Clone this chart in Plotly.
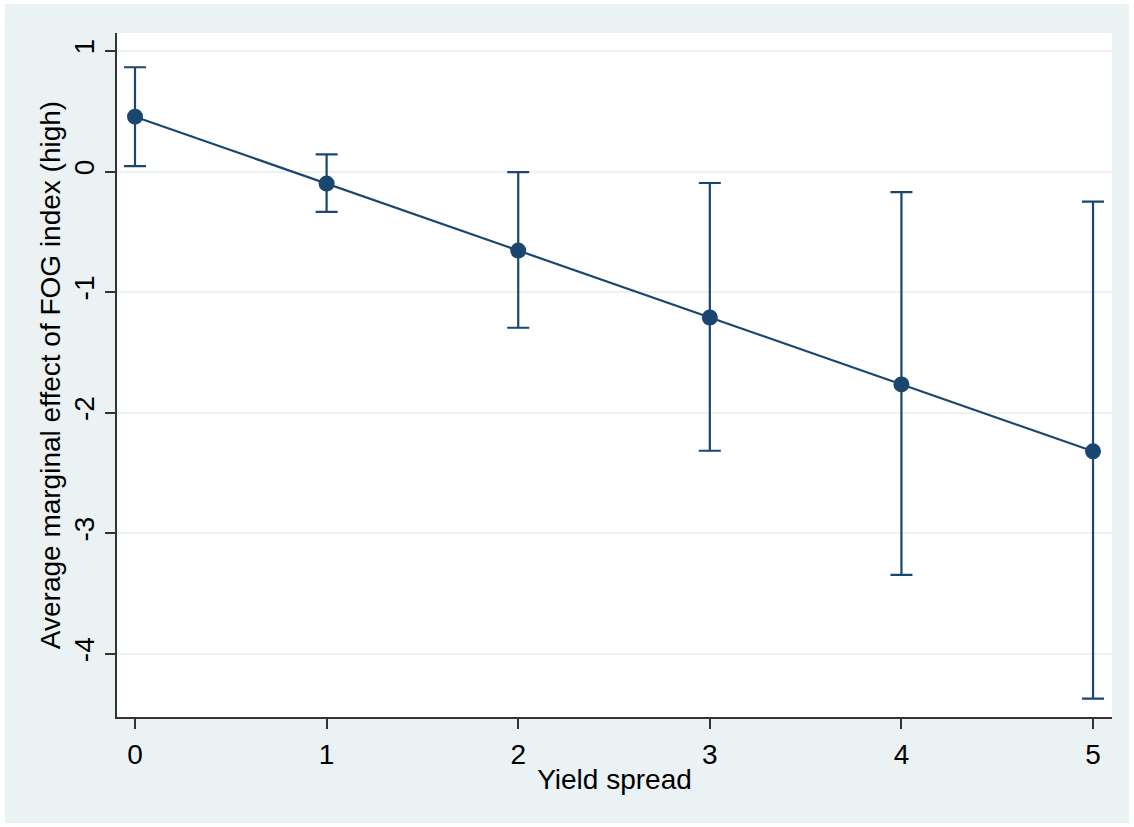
import plotly.graph_objects as go

x_vals = [0, 1, 2, 3, 4, 5]
effect = [0.455, -0.10, -0.655, -1.21, -1.765, -2.32]
ci_upper = [0.865, 0.142, -0.005, -0.095, -0.17, -0.25]
ci_lower = [0.045, -0.335, -1.295, -2.315, -3.345, -4.37]
x_ticks = [0, 1, 2, 3, 4, 5]
y_ticks = [1, 0, -1, -2, -3, -4]

navy = "#1A476F"
bg = "#EAF2F3"

err_plus = [u - e for u, e in zip(ci_upper, effect)]
err_minus = [e - l for e, l in zip(effect, ci_lower)]

fig = go.Figure()
fig.add_trace(go.Scatter(
    x=x_vals, y=effect, mode="lines+markers",
    line=dict(color=navy, width=2.2),
    marker=dict(color=navy, size=16),
    error_y=dict(type="data", symmetric=False, array=err_plus, arrayminus=err_minus,
                 color=navy, thickness=2.2, width=11),
    showlegend=False,
))

L, R, T, B = 117, 22, 33, 110
W, H = 1134, 827
pw, ph = W - L - R, H - T - B

fig.add_shape(type="rect", xref="paper", yref="paper",
              x0=(5 - L) / pw, x1=(1129 - L) / pw,
              y0=(H - B - 823) / ph, y1=(H - B - 4) / ph,
              fillcolor=bg, line=dict(width=0), layer="below")
fig.add_shape(type="rect", xref="paper", yref="paper",
              x0=0, x1=1, y0=0, y1=1,
              fillcolor="white", line=dict(width=0), layer="below")

fig.update_layout(
    width=W, height=H,
    margin=dict(l=L, r=R, t=T, b=B, autoexpand=False),
    paper_bgcolor="white", plot_bgcolor="white",
    font=dict(family="Liberation Sans, Arial, sans-serif", size=28, color="#000000"),
    xaxis=dict(range=[-0.094, 5.099], tickvals=x_ticks, ticktext=[str(v) for v in x_ticks],
               showgrid=False, zeroline=False, automargin=False,
               showline=True, linecolor="#333333", linewidth=1.5,
               ticks="outside", ticklen=10, tickcolor="#333333", tickwidth=1.5,
               ticklabelstandoff=2,
               title=dict(text="Yield spread", font=dict(size=28), standoff=0)),
    yaxis=dict(range=[-4.523, 1.149], tickvals=y_ticks, ticktext=[str(v) for v in y_ticks],
               showgrid=True, gridcolor=bg, gridwidth=2, automargin=False,
               zeroline=False, showline=True, linecolor="#333333", linewidth=1.5,
               ticks="outside", ticklen=10, tickcolor="#333333", tickwidth=1.5,
               tickangle=-90, ticklabelstandoff=0,
               title=dict(text="Average marginal effect of FOG index (high)", font=dict(size=28), standoff=0)),
)

fig.write_html("out.html", config={"displayModeBar": False},
               post_script="document.body.style.margin='0';")
